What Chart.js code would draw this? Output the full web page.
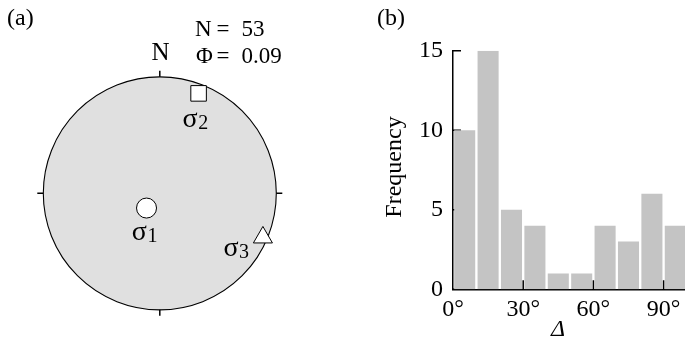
<!DOCTYPE html>
<html>
<head>
<meta charset="utf-8">
<script src="https://cdn.jsdelivr.net/npm/chart.js@4/dist/chart.umd.min.js"></script>
<style>
  html, body { margin: 0; padding: 0; background: #fff; overflow: hidden; width: 685px; height: 337px; }
  #wrapA { position: absolute; left: 0; top: 0; width: 340px; height: 337px; }
  #wrapB { position: absolute; left: 340px; top: 0; width: 347px; height: 337px; }
</style>
</head>
<body>
<div id="wrapA"><canvas id="stereo" width="340" height="337"></canvas></div>
<div id="wrapB"><canvas id="hist" width="347" height="337"></canvas></div>
<script>
// ---- Panel (a): principal stress axes on stereonet ----
const stressNames = ['σ', 'σ', 'σ'];
const stressSubs = ['1', '2', '3'];
const stressX = [-0.114, 0.333, 0.885];
const stressY = [-0.126, 0.857, -0.378];
const stressShapes = ['circle', 'rect', 'triangle'];
const statLabels = ['N', 'Φ'];
const statValues = ['53', '0.09'];
const northLabel = 'N';

// ---- Panel (b): histogram of misfit angle ----
const binCenters = [5, 15, 25, 35, 45, 55, 65, 75, 85, 95];
const frequencies = [10, 15, 5, 4, 1, 1, 4, 3, 6, 4];
const xTickValues = [0, 30, 60, 90];
const xTickLabels = ['0°', '30°', '60°', '90°'];
const yTickValues = [0, 5, 10, 15];
const yTickLabels = ['0', '5', '10', '15'];
const yTitle = 'Frequency';
const xTitle = 'Δ';

const SERIF = '"Liberation Serif", "Times New Roman", serif';
Chart.defaults.font.family = SERIF;

// label offsets (pixels) of sigma labels relative to their markers
const labelOffsets = [[-14.7, 32], [-16, 34], [-39.5, 19]];

const stereoPlugin = {
  id: 'stereo',
  beforeDatasetsDraw(chart) {
    const ctx = chart.ctx;
    const xs = chart.scales.x, ys = chart.scales.y;
    const cx = xs.getPixelForValue(0), cy = ys.getPixelForValue(0);
    const r = xs.getPixelForValue(1) - cx;
    ctx.save();
    ctx.beginPath();
    ctx.arc(cx, cy, r, 0, Math.PI * 2);
    ctx.fillStyle = '#e0e0e0';
    ctx.fill();
    ctx.lineWidth = 1.1;
    ctx.strokeStyle = '#000';
    ctx.stroke();
    // compass ticks
    const t = 6;
    ctx.lineWidth = 1.5;
    ctx.beginPath();
    ctx.moveTo(cx, cy - r); ctx.lineTo(cx, cy - r - t);
    ctx.moveTo(cx, cy + r); ctx.lineTo(cx, cy + r + t);
    ctx.moveTo(cx - r, cy); ctx.lineTo(cx - r - t, cy);
    ctx.moveTo(cx + r, cy); ctx.lineTo(cx + r + t, cy);
    ctx.stroke();
    ctx.restore();
  },
  afterDatasetsDraw(chart) {
    const ctx = chart.ctx;
    const xs = chart.scales.x, ys = chart.scales.y;
    ctx.save();
    ctx.fillStyle = '#000';
    ctx.textBaseline = 'alphabetic';
    // panel letter
    ctx.font = '24px ' + SERIF;
    ctx.textAlign = 'left';
    ctx.fillText('(a)', 7, 25);
    // north label
    ctx.font = '25px ' + SERIF;
    ctx.textAlign = 'center';
    ctx.fillText(northLabel, xs.getPixelForValue(0) + 0.8, 60);
    // statistics
    ctx.font = '23px ' + SERIF;
    const rows = [36, 63];
    statLabels.forEach((s, i) => {
      ctx.textAlign = 'left';
      ctx.fillText(s, 195 + i, rows[i]);
      ctx.textAlign = 'center';
      ctx.fillText('=', 223, rows[i]);
      ctx.textAlign = 'left';
      ctx.fillText(statValues[i], 241.5, rows[i]);
    });
    // sigma labels
    stressNames.forEach((s, i) => {
      const px = xs.getPixelForValue(stressX[i]) + labelOffsets[i][0];
      const py = ys.getPixelForValue(stressY[i]) + labelOffsets[i][1];
      ctx.textAlign = 'left';
      ctx.font = '28px ' + SERIF;
      ctx.fillText(s, px, py);
      const w = ctx.measureText(s).width;
      ctx.font = '20px ' + SERIF;
      ctx.fillText(stressSubs[i], px + w + 0.5, py + 2);
    });
    ctx.restore();
  }
};

new Chart(document.getElementById('stereo'), {
  type: 'scatter',
  data: {
    datasets: [{
      data: stressX.map((x, i) => ({ x: x, y: stressY[i] })),
      pointStyle: stressShapes,
      pointRadius: [10, 11, 11],
      backgroundColor: '#ffffff',
      borderColor: '#000000',
      borderWidth: 1,
      clip: false
    }]
  },
  options: {
    responsive: false,
    animation: false,
    events: [],
    layout: { padding: { left: 43.3, right: 63.7, top: 76.7, bottom: 27 } },
    plugins: { legend: { display: false }, tooltip: { enabled: false } },
    scales: {
      x: { type: 'linear', min: -1, max: 1, display: false },
      y: { type: 'linear', min: -1, max: 1, display: false }
    }
  },
  plugins: [stereoPlugin]
});

// ---- histogram ----
const histPlugin = {
  id: 'histExtras',
  beforeDatasetsDraw(chart) {
    const ctx = chart.ctx;
    const xs = chart.scales.x, ys = chart.scales.y;
    const x0 = xs.getPixelForValue(0), y0 = ys.getPixelForValue(0);
    ctx.save();
    ctx.strokeStyle = '#000';
    ctx.lineWidth = 1.5;
    ctx.beginPath();
    yTickValues.forEach(v => {
      const y = ys.getPixelForValue(v);
      ctx.moveTo(x0, y); ctx.lineTo(x0 + 8, y);
    });
    ctx.stroke();
    ctx.restore();
  },
  afterDatasetsDraw(chart) {
    const ctx = chart.ctx;
    const xs = chart.scales.x, ys = chart.scales.y;
    const y0 = ys.getPixelForValue(0);
    ctx.save();
    ctx.strokeStyle = '#000';
    ctx.lineWidth = 1.5;
    ctx.beginPath();
    xTickValues.forEach(v => {
      if (v === 0) return;
      const x = xs.getPixelForValue(v);
      ctx.moveTo(x, y0); ctx.lineTo(x, y0 - 9);
    });
    ctx.stroke();
    ctx.fillStyle = '#000';
    ctx.font = '24px ' + SERIF;
    ctx.textAlign = 'left';
    ctx.textBaseline = 'alphabetic';
    ctx.fillText('(b)', 37, 25);
    // y title
    ctx.save();
    ctx.translate(55, 167);
    ctx.rotate(-Math.PI / 2);
    ctx.textAlign = 'center';
    ctx.textBaseline = 'middle';
    ctx.fillText(yTitle, 0, 0);
    ctx.restore();
    // x title
    ctx.font = 'italic 24px ' + SERIF;
    ctx.textAlign = 'center';
    ctx.textBaseline = 'alphabetic';
    ctx.fillText(xTitle, 218, 336);
    ctx.restore();
  }
};

new Chart(document.getElementById('hist'), {
  type: 'bar',
  data: {
    datasets: [{
      data: binCenters.map((c, i) => ({ x: c, y: frequencies[i] })),
      backgroundColor: '#c4c4c4',
      borderWidth: 0,
      barPercentage: 0.9,
      categoryPercentage: 1.0
    }]
  },
  options: {
    responsive: false,
    animation: false,
    events: [],
    layout: { padding: { left: 0, right: 0, top: 50.7, bottom: 0 } },
    plugins: { legend: { display: false }, tooltip: { enabled: false } },
    scales: {
      x: {
        type: 'linear',
        offset: false,
        min: 0, max: 100,
        afterBuildTicks: s => { s.ticks = xTickValues.map(v => ({ value: v })); },
        afterFit: s => { s.height = 47.7; },
        grid: { display: false, drawTicks: false },
        border: { display: true, color: '#000', width: 1.5 },
        ticks: {
          color: '#000',
          font: { size: 24, family: SERIF },
          padding: 6,
          maxRotation: 0,
          callback: (v) => xTickLabels[xTickValues.indexOf(v)]
        }
      },
      y: {
        type: 'linear',
        min: 0, max: 15,
        afterBuildTicks: s => { s.ticks = yTickValues.map(v => ({ value: v })); },
        afterFit: s => { s.width = 113; },
        grid: { display: false, drawTicks: false },
        border: { display: true, color: '#000', width: 1.5 },
        ticks: {
          color: '#000',
          font: { size: 24, family: SERIF },
          padding: 10,
          callback: (v) => yTickLabels[yTickValues.indexOf(v)]
        }
      }
    }
  },
  plugins: [histPlugin]
});
</script>
</body>
</html>
